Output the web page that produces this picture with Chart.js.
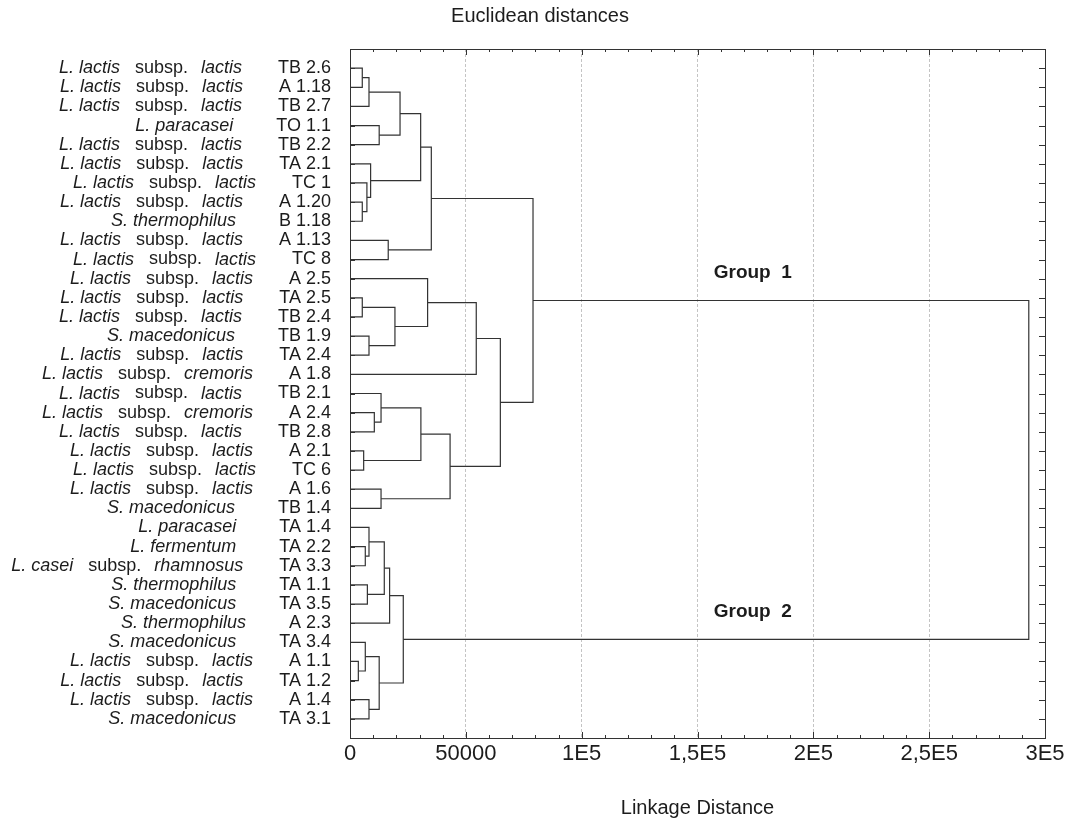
<!DOCTYPE html>
<html>
<head>
<meta charset="utf-8">
<title>Euclidean distances</title>
<script src="https://cdn.jsdelivr.net/npm/chart.js@4.4.1/dist/chart.umd.min.js"></script>
<style>
  html, body { margin: 0; padding: 0; background: #fff; }
  canvas { display: block; }
</style>
</head>
<body>
<canvas id="tree" width="1076" height="820"></canvas>
<script>
// strains, listed top to bottom in dendrogram order
const leafSpecies = [
    'L. lactis', 'L. lactis', 'L. lactis', 'L. paracasei', 'L. lactis', 'L. lactis', 'L. lactis',
    'L. lactis', 'S. thermophilus', 'L. lactis', 'L. lactis', 'L. lactis', 'L. lactis', 'L. lactis',
    'S. macedonicus', 'L. lactis', 'L. lactis', 'L. lactis', 'L. lactis', 'L. lactis', 'L. lactis',
    'L. lactis', 'L. lactis', 'S. macedonicus', 'L. paracasei', 'L. fermentum', 'L. casei',
    'S. thermophilus', 'S. macedonicus', 'S. thermophilus', 'S. macedonicus', 'L. lactis',
    'L. lactis', 'L. lactis', 'S. macedonicus'
];
const leafSubspecies = [
    'lactis', 'lactis', 'lactis', '', 'lactis', 'lactis', 'lactis',
    'lactis', '', 'lactis', 'lactis', 'lactis', 'lactis', 'lactis',
    '', 'lactis', 'cremoris', 'lactis', 'cremoris', 'lactis', 'lactis',
    'lactis', 'lactis', '', '', '', 'rhamnosus',
    '', '', '', '', 'lactis',
    'lactis', 'lactis', ''
];
const leafCodes = [
    'TB 2.6', 'A 1.18', 'TB 2.7', 'TO 1.1', 'TB 2.2', 'TA 2.1', 'TC 1',
    'A 1.20', 'B 1.18', 'A 1.13', 'TC 8', 'A 2.5', 'TA 2.5', 'TB 2.4',
    'TB 1.9', 'TA 2.4', 'A 1.8', 'TB 2.1', 'A 2.4', 'TB 2.8', 'A 2.1',
    'TC 6', 'A 1.6', 'TB 1.4', 'TA 1.4', 'TA 2.2', 'TA 3.3',
    'TA 1.1', 'TA 3.5', 'A 2.3', 'TA 3.4', 'A 1.1',
    'TA 1.2', 'A 1.4', 'TA 3.1'
];

// linkage table: node ids 0..34 are leaves, 35 + k is the cluster made by row k
const linkLeft  = [0, 35, 3, 36, 7, 6, 5, 38, 9, 42, 12, 14, 45, 11, 48, 18, 17, 20, 51, 22, 53, 49, 44,
                   25, 24, 27, 59, 61, 31, 30, 33, 64, 62, 57];
const linkRight = [1, 2, 4, 37, 8, 39, 40, 41, 10, 43, 13, 15, 46, 47, 16, 19, 50, 21, 52, 23, 54, 55, 56,
                   26, 58, 28, 60, 29, 32, 63, 34, 65, 66, 67];
const linkDistance = [5300, 8200, 12600, 21600, 5300, 7300, 8900, 30500, 16500, 35100, 5300, 8200, 19400,
                      33500, 54500, 10500, 13400, 5900, 30600, 13400, 43200, 64900, 79000,
                      6600, 8200, 7500, 14800, 17100, 3600, 6600, 8200, 12600, 23000, 293000];

const xTickValues = [0, 50000, 100000, 150000, 200000, 250000, 300000];
const xTickLabels = ['0', '50000', '1E5', '1,5E5', '2E5', '2,5E5', '3E5'];
const groupNames = ['Group  1', 'Group  2'];

const FONT = '"Liberation Sans", Arial, Helvetica, sans-serif';
const INK = '#1c1c1c';
const LINE = '#333333';

// walk the linkage table: every merge becomes one bracket-shaped line
const nodeY = leafCodes.map((_, i) => i + 1);
const nodeH = leafCodes.map(() => 0);
const datasets = [];
for (let k = 0; k < linkDistance.length; k++) {
    const a = linkLeft[k], b = linkRight[k], d = linkDistance[k];
    datasets.push({
        data: [
            { x: nodeH[a], y: nodeY[a] },
            { x: d, y: nodeY[a] },
            { x: d, y: nodeY[b] },
            { x: nodeH[b], y: nodeY[b] }
        ],
        showLine: true,
        borderColor: LINE,
        borderWidth: 1.2,
        pointRadius: 0,
        tension: 0,
        fill: false
    });
    nodeY.push((nodeY[a] + nodeY[b]) / 2);
    nodeH.push(d);
}
const root = linkDistance.length - 1;
const groupNodes = [linkLeft[root], linkRight[root]];

// tick marks, strain labels, heading and group names
const decorations = {
    id: 'decorations',
    afterDraw(chart) {
        const { ctx, chartArea: area, scales: { x, y } } = chart;
        ctx.save();

        ctx.strokeStyle = LINE;
        ctx.lineWidth = 1;
        ctx.beginPath();
        x.ticks.forEach(t => {
            const px = Math.round(x.getPixelForValue(t.value)) + 0.5;
            const len = t.value % 50000 === 0 ? 6 : 3;
            ctx.moveTo(px, area.top); ctx.lineTo(px, area.top + len);
            ctx.moveTo(px, area.bottom); ctx.lineTo(px, area.bottom - len);
        });
        leafCodes.forEach((_, i) => {
            const py = Math.round(y.getPixelForValue(i + 1)) + 0.5;
            ctx.moveTo(area.left, py); ctx.lineTo(area.left + 5, py);
            ctx.moveTo(area.right, py); ctx.lineTo(area.right - 6, py);
        });
        ctx.stroke();

        const roman = '18px ' + FONT;
        const italic = 'italic 18px ' + FONT;
        ctx.fillStyle = INK;
        ctx.textBaseline = 'middle';
        ctx.textAlign = 'right';
        leafCodes.forEach((code, i) => {
            const py = y.getPixelForValue(i + 1);
            ctx.font = roman;
            ctx.fillText(code, 331, py);
            const sub = leafSubspecies[i];
            let right = 331 - ctx.measureText(code).width - (sub ? 36 : 43);
            if (sub) {
                ctx.font = italic;
                ctx.fillText(sub, right, py);
                right -= ctx.measureText(sub).width + 13;
                ctx.font = roman;
                ctx.fillText('subsp.', right, py);
                right -= ctx.measureText('subsp.').width + 15;
            }
            ctx.font = italic;
            ctx.fillText(leafSpecies[i], right, py);
        });

        ctx.textBaseline = 'alphabetic';
        ctx.textAlign = 'center';
        ctx.font = '20px ' + FONT;
        ctx.fillText('Euclidean distances', 540, 22);

        ctx.textAlign = 'left';
        ctx.font = 'bold 19px ' + FONT;
        groupNodes.forEach((n, g) => {
            ctx.fillText(groupNames[g], x.getPixelForValue(157000), y.getPixelForValue(nodeY[n]) - 22);
        });

        ctx.restore();
    }
};

Chart.defaults.font.family = FONT;
Chart.defaults.color = INK;

new Chart(document.getElementById('tree'), {
    type: 'scatter',
    data: { datasets: datasets },
    options: {
        responsive: false,
        animation: false,
        layout: { padding: { left: 350, right: 31, top: 49, bottom: 0 } },
        plugins: {
            legend: { display: false },
            tooltip: { enabled: false }
        },
        scales: {
            x: {
                type: 'linear',
                position: 'bottom',
                min: 0,
                max: 300000,
                afterFit: s => { s.height = 82; },
                ticks: {
                    stepSize: 10000,
                    autoSkip: false,
                    maxRotation: 0,
                    padding: 3,
                    font: { size: 22 },
                    color: INK,
                    callback: v => {
                        const k = xTickValues.indexOf(v);
                        return k >= 0 ? xTickLabels[k] : '';
                    }
                },
                grid: {
                    drawTicks: false,
                    lineWidth: 1,
                    color: c => (c.tick && c.tick.value % 50000 === 0 && c.tick.value > 0 && c.tick.value < 300000)
                        ? '#c4c4c4' : 'rgba(0,0,0,0)'
                },
                border: { display: true, color: LINE, width: 1, dash: [3, 2] },
                title: {
                    display: true,
                    text: 'Linkage Distance',
                    font: { size: 20 },
                    color: INK,
                    padding: { top: 0, bottom: 0 }
                }
            },
            xTop: {
                type: 'linear',
                position: 'top',
                min: 0,
                max: 300000,
                afterFit: s => { s.height = 0; },
                ticks: { display: false },
                grid: { display: false },
                border: { display: true, color: LINE, width: 1 }
            },
            y: {
                type: 'linear',
                position: 'left',
                reverse: true,
                min: 0,
                max: leafCodes.length + 1,
                afterFit: s => { s.width = 0; },
                ticks: { display: false },
                grid: { display: false },
                border: { display: true, color: LINE, width: 1 }
            },
            yRight: {
                type: 'linear',
                position: 'right',
                reverse: true,
                min: 0,
                max: leafCodes.length + 1,
                afterFit: s => { s.width = 0; },
                ticks: { display: false },
                grid: { display: false },
                border: { display: true, color: LINE, width: 1 }
            }
        }
    },
    plugins: [decorations]
});
</script>
</body>
</html>
